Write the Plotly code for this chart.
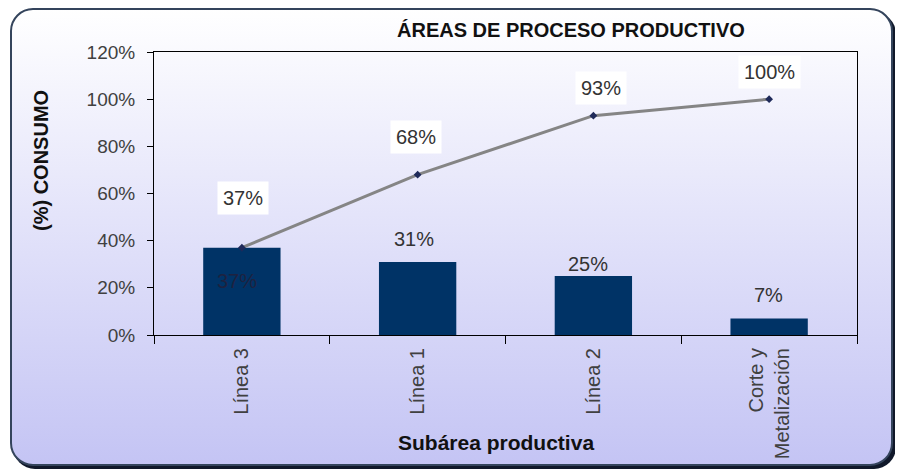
import base64
import plotly.graph_objects as go

# ---- data ----
categories = ["Línea 3", "Línea 1", "Línea 2", "Corte y<br>Metalización"]
consumo = [37, 31, 25, 7]            # % consumption per sub-area
acumulado = [37, 68, 93, 100]        # cumulative %
y_ticks = [0, 20, 40, 60, 80, 100, 120]

# page renders the figure at an 8px body offset; lay out in page pixels
OFF = 8
W, H = 903 - OFF, 473 - OFF
ML, MT = 154 - OFF, 52 - OFF
MR, MB = 46, 138
PW, PH = W - ML - MR, H - MT - MB

FONT = "Liberation Sans, Arial, sans-serif"


def px_x(px):
    return (px - OFF - ML) / PW


def px_y(py):
    return 1 - (py - OFF - MT) / PH


# background frame as an SVG (rounded box with vertical gradient and shadow)
svg = f'''<svg xmlns="http://www.w3.org/2000/svg" width="{W}" height="{H}" viewBox="0 0 {W} {H}" preserveAspectRatio="none">
<defs><linearGradient id="g" x1="0" y1="0" x2="0" y2="1">
<stop offset="0" stop-color="#ffffff"/><stop offset="0.45" stop-color="#e4e4fa"/><stop offset="1" stop-color="#c4c4f4"/>
</linearGradient></defs>
<rect x="0" y="0" width="{W}" height="{H}" fill="#ffffff"/>
<rect x="{13-OFF}" y="{12-OFF}" width="883" height="457" rx="22" ry="22" fill="#10182a"/>
<rect x="{11-OFF}" y="{9-OFF}" width="881" height="456" rx="22" ry="22" fill="url(#g)" stroke="#34445c" stroke-width="2"/>
</svg>'''
src = "data:image/svg+xml;base64," + base64.b64encode(svg.encode()).decode()

fig = go.Figure()
fig.add_trace(go.Bar(
    x=categories, y=consumo, marker=dict(color="#003366", line=dict(width=0)),
    width=0.44, showlegend=False, hoverinfo="skip",
))
fig.add_trace(go.Scatter(
    x=categories, y=acumulado, mode="lines+markers",
    line=dict(color="#858585", width=3),
    marker=dict(symbol="diamond", size=6, color="#1f2a5a"),
    showlegend=False, hoverinfo="skip",
))

# labels for the cumulative line (white boxes)
line_shift = [50, 38, 28, 27]
line_xshift = [1, -2, 8, 0]
for c, v, s, xs in zip(categories, acumulado, line_shift, line_xshift):
    fig.add_annotation(x=c, y=v, text=f"{v}%", showarrow=False, yshift=s, xshift=xs,
                       bgcolor="#ffffff", borderpad=5, xanchor="center", yanchor="middle",
                       font=dict(family=FONT, size=20, color="#333333"))

# labels for the bars
bar_shift = [-33, 23, 12, 23]
bar_xshift = [-5, -4, -5, -1]
bar_color = ["#1e2240", "#333333", "#333333", "#333333"]
for c, v, s, xs, col in zip(categories, consumo, bar_shift, bar_xshift, bar_color):
    fig.add_annotation(x=c, y=v, text=f"{v}%", showarrow=False, yshift=s, xshift=xs,
                       xanchor="center", yanchor="middle",
                       font=dict(family=FONT, size=20, color=col))

# titles
fig.add_annotation(xref="paper", yref="paper", x=px_x(571), y=px_y(30),
                   xanchor="center", yanchor="middle",
                   text="<b>ÁREAS DE PROCESO PRODUCTIVO</b>", showarrow=False,
                   font=dict(family=FONT, size=20, color="#111111"))
fig.add_annotation(xref="paper", yref="paper", x=px_x(41), y=px_y(161), textangle=-90,
                   xanchor="center", yanchor="middle",
                   text="<b>(%) CONSUMO</b>", showarrow=False,
                   font=dict(family=FONT, size=20, color="#111111"))
fig.add_annotation(xref="paper", yref="paper", x=px_x(496), y=px_y(442),
                   xanchor="center", yanchor="middle",
                   text="<b>Subárea productiva</b>", showarrow=False,
                   font=dict(family=FONT, size=21, color="#111111"))

fig.update_layout(
    width=W, height=H,
    margin=dict(l=ML, r=MR, t=MT, b=MB),
    paper_bgcolor="#ffffff", plot_bgcolor="rgba(0,0,0,0)",
    images=[dict(source=src, xref="paper", yref="paper",
                 x=-ML / PW, y=1 + MT / PH, sizex=W / PW, sizey=H / PH,
                 xanchor="left", yanchor="top", sizing="stretch", layer="below")],
    font=dict(family=FONT, color="#333333"),
)
fig.update_yaxes(
    range=[0, 120], tickvals=y_ticks, ticktext=[f"{t}%" for t in y_ticks],
    showgrid=False, zeroline=False, showline=True, linecolor="#000000", linewidth=1,
    mirror=True, ticks="outside", ticklen=6, tickcolor="#000000", automargin=False,
    ticklabelstandoff=8,
    tickfont=dict(family=FONT, size=19, color="#404040"),
)
fig.update_xaxes(
    showgrid=False, zeroline=False, showline=True, linecolor="#000000", linewidth=1,
    mirror=True, ticks="outside", ticklen=8, tickcolor="#000000", tickson="boundaries",
    automargin=False, tickangle=-90, ticklabelstandoff=4,
    tickfont=dict(family=FONT, size=20, color="#404040"),
)

fig.write_html("out.html")
